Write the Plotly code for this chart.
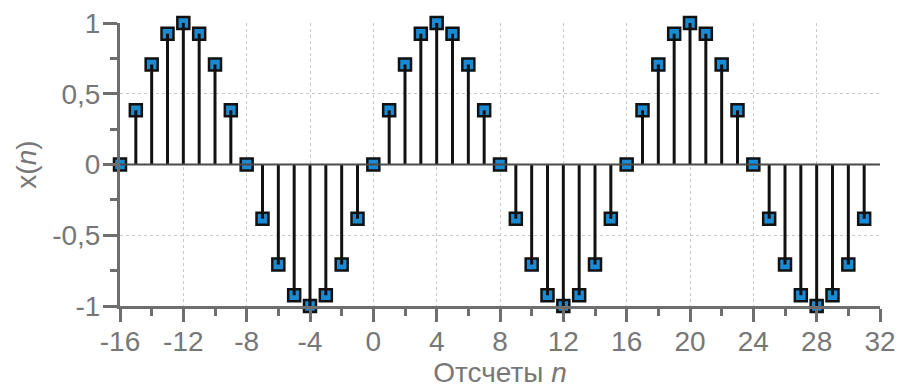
import plotly.graph_objects as go

# Sample indices and the sampled sinusoid x(n) (period 16)
n_values = list(range(-16, 32))
x_values = [
    0.0, 0.383, 0.707, 0.924, 1.0, 0.924, 0.707, 0.383,
    0.0, -0.383, -0.707, -0.924, -1.0, -0.924, -0.707, -0.383,
    0.0, 0.383, 0.707, 0.924, 1.0, 0.924, 0.707, 0.383,
    0.0, -0.383, -0.707, -0.924, -1.0, -0.924, -0.707, -0.383,
    0.0, 0.383, 0.707, 0.924, 1.0, 0.924, 0.707, 0.383,
    0.0, -0.383, -0.707, -0.924, -1.0, -0.924, -0.707, -0.383,
]

x_tick_vals = [-16, -12, -8, -4, 0, 4, 8, 12, 16, 20, 24, 28, 32]
x_tick_text = ["-16", "-12", "-8", "-4", "0", "4", "8", "12", "16", "20", "24", "28", "32"]
y_tick_vals = [-1, -0.5, 0, 0.5, 1]
y_tick_text = ["-1", "-0,5", "0", "0,5", "1"]

AXIS = "#6e6e6e"
TEXT = "#777777"
GRID = "#c8c8c8"
FONT = "Liberation Sans, Arial, sans-serif"
FS = 28

# Stem segments from the baseline to each sample
stem_x, stem_y = [], []
for n, v in zip(n_values, x_values):
    stem_x += [n, n, None]
    stem_y += [0, v, None]

fig = go.Figure()

# Sample markers
fig.add_trace(go.Scatter(
    x=n_values, y=x_values, mode="markers",
    marker=dict(symbol="square", size=12, color="#1a8ad2",
                line=dict(color="#111111", width=2.5)),
    cliponaxis=False, hoverinfo="skip", showlegend=False,
))

# Stems drawn over the markers, ending at their centres
fig.add_trace(go.Scatter(
    x=stem_x, y=stem_y, mode="lines",
    line=dict(color="#111111", width=3),
    cliponaxis=False, hoverinfo="skip", showlegend=False,
))

# Baseline at x(n) = 0
fig.add_trace(go.Scatter(
    x=[x_tick_vals[0], x_tick_vals[-1]], y=[0, 0], mode="lines",
    line=dict(color="#4a4a4a", width=2),
    cliponaxis=False, hoverinfo="skip", showlegend=False,
))

fig.update_layout(
    width=898, height=389,
    margin=dict(l=120, r=18, t=23, b=83),
    paper_bgcolor="white", plot_bgcolor="white",
    font=dict(family=FONT, size=FS, color=TEXT),
    showlegend=False,
)

fig.update_xaxes(
    range=[-16, 32], autorange=False, automargin=False,
    tickmode="array", tickvals=x_tick_vals, ticktext=x_tick_text,
    ticks="outside", ticklen=13, tickwidth=3, tickcolor=AXIS,
    ticklabelstandoff=-5,
    showline=True, linecolor=AXIS, linewidth=3,
    showgrid=True, gridcolor=GRID, gridwidth=1, griddash="dot",
    zeroline=False,
    minor=dict(dtick=2, tick0=0, ticks="outside", ticklen=7, tickwidth=3,
               tickcolor=AXIS, showgrid=False),
    tickfont=dict(size=FS, color=TEXT),
    title=dict(text="Отсчеты <i>n</i>", font=dict(size=FS, color=TEXT), standoff=2),
)

fig.update_yaxes(
    range=[-1, 1], autorange=False, automargin=False,
    tickmode="array", tickvals=y_tick_vals, ticktext=y_tick_text,
    ticks="outside", ticklen=14, tickwidth=3, tickcolor=AXIS,
    ticklabelstandoff=-3,
    showline=True, linecolor=AXIS, linewidth=3,
    showgrid=True, gridcolor=GRID, gridwidth=1, griddash="dot",
    zeroline=False,
    minor=dict(dtick=0.25, tick0=0, ticks="outside", ticklen=7, tickwidth=3,
               tickcolor=AXIS, showgrid=False),
    tickfont=dict(size=FS, color=TEXT),
    title=dict(text="x(<i>n</i>)", font=dict(size=FS, color=TEXT), standoff=8),
)

fig.write_html("out.html")
